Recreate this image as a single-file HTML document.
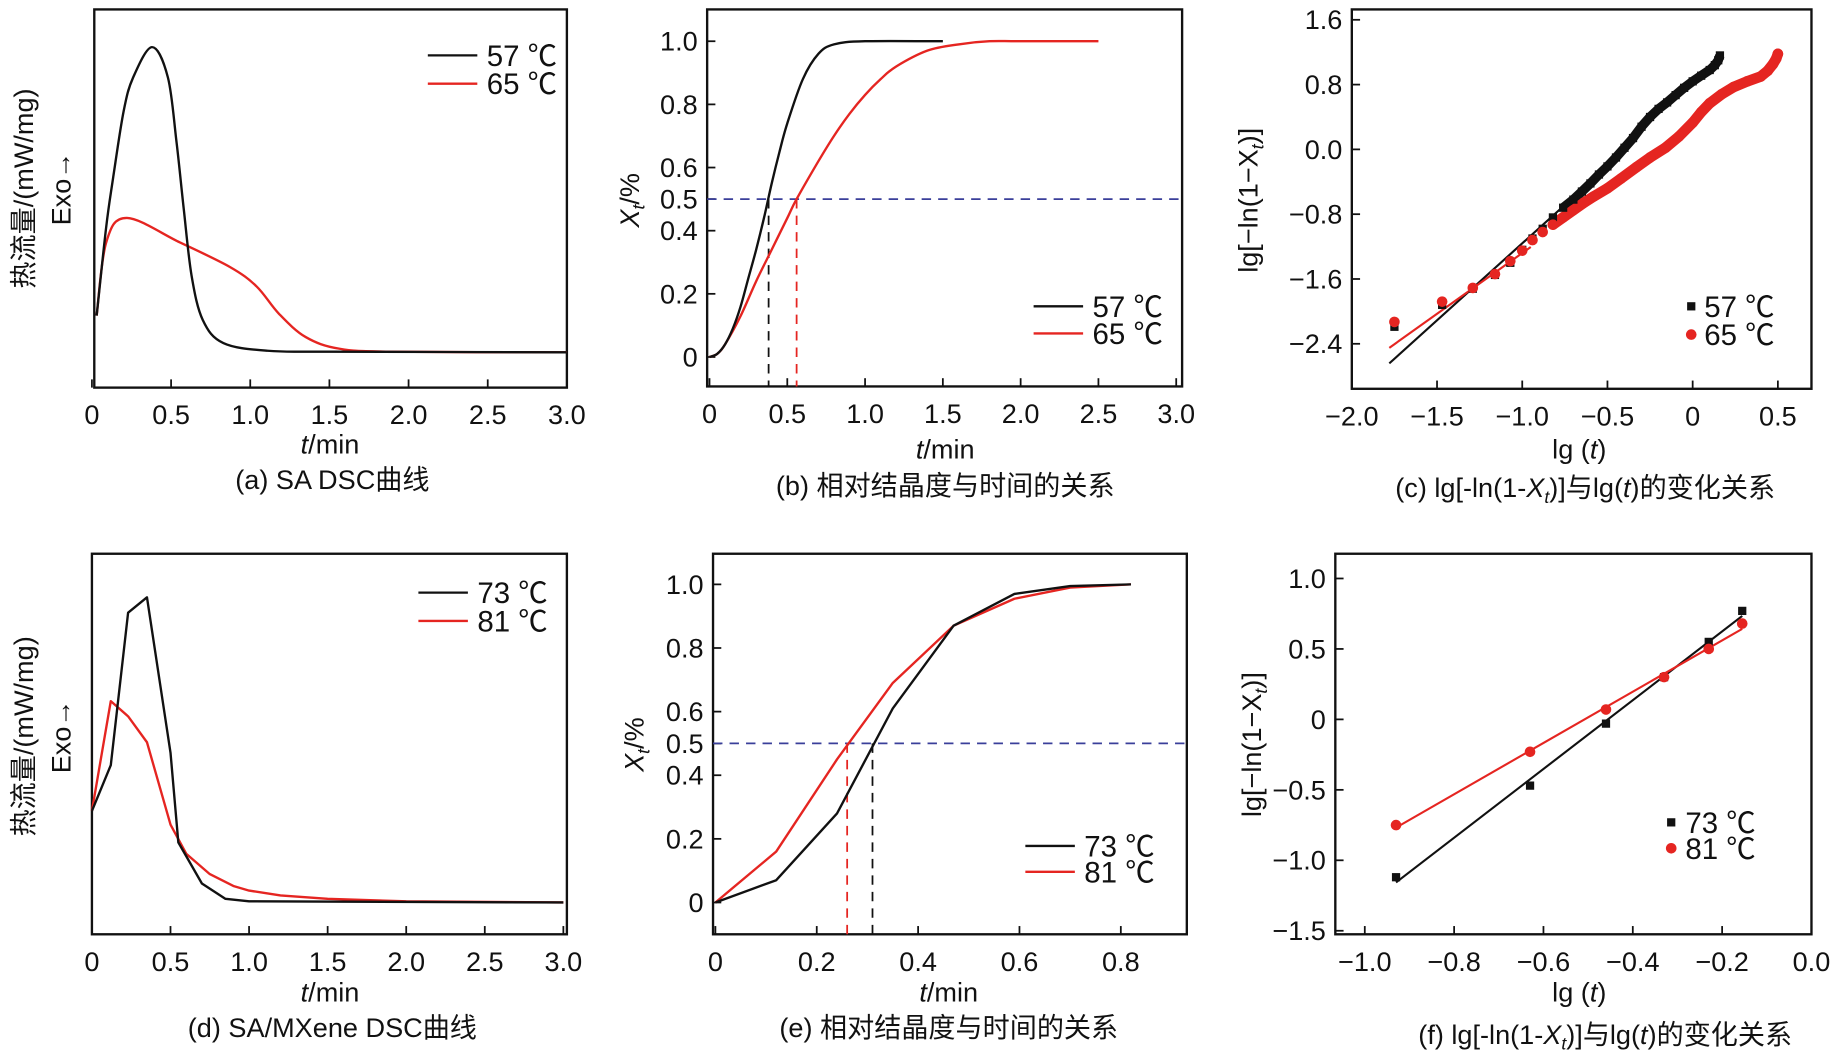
<!DOCTYPE html>
<html><head><meta charset="utf-8"><style>
html,body{margin:0;padding:0;background:#fff}
svg{display:block}
text{font-family:"Liberation Sans","Noto Sans CJK SC",sans-serif;fill:#111}
</style></head><body>
<svg id="fig" width="1848" height="1058" viewBox="0 0 1568 898" preserveAspectRatio="none" xmlns="http://www.w3.org/2000/svg"></svg>
<script>
// ---- data ----
const aT57=[0.03,0.09,0.135,0.2,0.26,0.38,0.48,0.535,0.58,0.63,0.70,0.83,1.11,1.5,3.0];
const aV57=[0.12,0.41,0.575,0.79,0.90,1.0,0.90,0.685,0.47,0.25,0.106,0.03,0.005,0.002,0];
const aT65=[0.03,0.09,0.22,0.556,0.87,1.04,1.18,1.35,1.56,1.9,3.0];
const aV65=[0.12,0.36,0.44,0.36,0.28,0.216,0.127,0.05,0.012,0.002,0];
const bT57=[0,0.05,0.1,0.15,0.2,0.25,0.3,0.35,0.4,0.45,0.5,0.6,0.7,0.8,1.0,1.5];
const bX57=[0,0.01,0.04,0.09,0.16,0.25,0.34,0.44,0.55,0.65,0.74,0.88,0.96,0.99,1.0,1.0];
const bT65=[0,0.05,0.1,0.2,0.3,0.4,0.5,0.56,0.7,0.8,0.9,1.0,1.1,1.2,1.4,1.6,1.8,2.0,2.5];
const bX65=[0,0.01,0.04,0.13,0.24,0.34,0.44,0.5,0.62,0.7,0.77,0.83,0.88,0.92,0.97,0.99,1.0,1.0,1.0];
const bHalf=[0.38,0.56];
const cX57=[-1.75,-1.47,-1.29,-1.16,-1.07,-1.00,-0.94,-0.88,-0.82,-0.76,-0.70,-0.65,-0.60,-0.55,-0.50,-0.45,-0.40,-0.35,-0.30,-0.25,-0.20,-0.15,-0.10,-0.05,0.00,0.05,0.10,0.13,0.15,0.16];
const cY57=[-2.19,-1.92,-1.72,-1.55,-1.40,-1.24,-1.10,-0.98,-0.84,-0.72,-0.62,-0.52,-0.42,-0.31,-0.21,-0.10,0.02,0.14,0.28,0.40,0.50,0.58,0.67,0.76,0.84,0.91,0.98,1.04,1.10,1.16];
const cX65=[-1.75,-1.47,-1.29,-1.16,-1.07,-1.00,-0.94,-0.88,-0.82,-0.76,-0.70,-0.64,-0.58,-0.50,-0.42,-0.33,-0.25,-0.16,-0.08,0.00,0.05,0.10,0.17,0.24,0.32,0.40,0.44,0.47,0.49,0.50];
const cY65=[-2.13,-1.88,-1.71,-1.54,-1.38,-1.25,-1.12,-1.02,-0.93,-0.84,-0.75,-0.66,-0.58,-0.48,-0.36,-0.22,-0.10,0.02,0.16,0.33,0.46,0.57,0.68,0.77,0.84,0.90,0.97,1.05,1.12,1.18];
const cDense=[9,8]; // index where markers become continuous (57, 65)
const cFit57=[1.9,0.74,-1.78,-0.65]; // slope, intercept, x0, x1
const cFit65=[1.5,0.22,-1.78,-0.95];
const dT73=[0,0.12,0.23,0.35,0.5,0.55,0.7,0.85,1.0,3.0];
const dV73=[0.30,0.45,0.95,1.0,0.49,0.197,0.062,0.012,0.004,0];
const dT81=[0,0.12,0.23,0.35,0.5,0.6,0.75,0.9,1.0,1.2,1.5,2.0,3.0];
const dV81=[0.30,0.66,0.61,0.525,0.255,0.16,0.093,0.054,0.039,0.023,0.012,0.004,0];
const eT=[0,0.12,0.24,0.35,0.47,0.59,0.70,0.82];
const eX73=[0,0.07,0.28,0.61,0.87,0.97,0.995,1.0];
const eX81=[0,0.16,0.45,0.69,0.87,0.955,0.99,1.0];
const eHalf=[0.31,0.26];
const fX=[-0.93,-0.63,-0.46,-0.33,-0.23,-0.155];
const fY73=[-1.12,-0.47,-0.03,0.30,0.55,0.77];
const fY81=[-0.75,-0.23,0.07,0.30,0.50,0.68];
const tickA=["0","0.5","1.0","1.5","2.0","2.5","3.0"];
const tickBY=["0","0.2","0.4","0.5","0.6","0.8","1.0"];
const tickCX=["−2.0","−1.5","−1.0","−0.5","0","0.5"];
const tickCY=["−2.4","−1.6","−0.8","0.0","0.8","1.6"];
const tickEX=["0","0.2","0.4","0.6","0.8"];
const tickFX=["−1.0","−0.8","−0.6","−0.4","−0.2","0.0"];
const tickFY=["−1.5","−1.0","−0.5","0","0.5","1.0"];

const S=document.getElementById('fig');
const NS='http://www.w3.org/2000/svg';
function mk(tag,at,par){const e=document.createElementNS(NS,tag);for(const k in at)e.setAttribute(k,at[k]);(par||S).appendChild(e);return e;}
function txt(x,y,s,size,anchor,par,rot){const e=mk('text',{x:x,y:y,'font-size':size,'text-anchor':anchor||'middle'},par);if(rot)e.setAttribute('transform','rotate(-90 '+x+' '+y+')');e.innerHTML=s;return e;}
function lin(d0,d1,r0,r1){return v=>r0+(v-d0)/(d1-d0)*(r1-r0);}
function poly(xs,ys,X,Y,col,g,name){const p=mk('polyline',{points:xs.map((v,i)=>X(v).toFixed(1)+','+Y(ys[i]).toFixed(1)).join(' '),fill:'none',stroke:col,'stroke-width':2,'stroke-linejoin':'round'},g);return p;}
function smooth(xs,ys,X,Y,col,g,name){
  const P=xs.map((v,i)=>[X(v),Y(ys[i])]);let d='M'+P[0][0].toFixed(1)+','+P[0][1].toFixed(1);
  for(let i=0;i<P.length-1;i++){const p0=P[Math.max(0,i-1)],p1=P[i],p2=P[i+1],p3=P[Math.min(P.length-1,i+2)];
    const t=6;const c1=[p1[0]+(p2[0]-p0[0])/t,p1[1]+(p2[1]-p0[1])/t],c2=[p2[0]-(p3[0]-p1[0])/t,p2[1]-(p3[1]-p1[1])/t];
    d+=' C'+c1[0].toFixed(1)+','+c1[1].toFixed(1)+' '+c2[0].toFixed(1)+','+c2[1].toFixed(1)+' '+p2[0].toFixed(1)+','+p2[1].toFixed(1);}
  const p=mk('path',{d:d,fill:'none',stroke:col,'stroke-width':2},g);return p;}
function box(x0,y0,x1,y1,g){const r=mk('rect',{x:x0,y:y0,width:x1-x0,height:y1-y0,fill:'none',stroke:'#111','stroke-width':2},g);}
function xticks(vals,labels,X,yb,g){vals.forEach((v,i)=>{mk('line',{x1:X(v),x2:X(v),y1:yb,y2:yb-7,stroke:'#111','stroke-width':1.5},g);const t=txt(X(v),yb+31,labels[i],23,'middle',g);});}
function yticks(vals,labels,Y,xl,g){vals.forEach((v,i)=>{mk('line',{x1:xl,x2:xl+7,y1:Y(v),y2:Y(v),stroke:'#111','stroke-width':1.5},g);const t=txt(xl-8,Y(v)+8,labels[i],23,'end',g);});}
function group(name){const g=mk('g',{});return g;}
function legLine(x,y,col,label,g){mk('line',{x1:x,x2:x+42,y1:y,y2:y,stroke:col,'stroke-width':2},g);const t=txt(x+50,y+9,label,25,'start',g);}
function sq(x,y,col,g){mk('rect',{x:x-3.5,y:y-3.5,width:7,height:7,fill:col},g);}
function ci(x,y,col,g){mk('circle',{cx:x,cy:y,r:4.5,fill:col},g);}
function fitLine(xs,ys){const n=xs.length;let sx=0,sy=0,sxx=0,sxy=0;for(let i=0;i<n;i++){sx+=xs[i];sy+=ys[i];sxx+=xs[i]*xs[i];sxy+=xs[i]*ys[i];}const m=(n*sxy-sx*sy)/(n*sxx-sx*sx);return [m,(sy-m*sx)/n];}
const tv=[0,0.5,1,1.5,2,2.5,3];

// ---- panel a ----
(function(){const g=group('panel-a');box(80,8,481,329,g);
const X=lin(0,3,78,481),Y=lin(0,1,299,40);
xticks(tv,tickA,X,329,g);
smooth(aT65,aV65,X,Y,'#e52521',g,'line-65');smooth(aT57,aV57,X,Y,'#111',g,'line-57');
legLine(363,47,'#111','57 ℃',g);legLine(363,71,'#e52521','65 ℃',g);
txt(28,160,'热流量/(mW/mg)',23,'middle',g,true);txt(60,160,'Exo→',23,'middle',g,true);
txt(280,385,'<tspan font-style="italic">t</tspan>/min',23,'middle',g);
txt(282,415,'(a) SA DSC曲线',23,'middle',g);})();

// ---- panel b ----
(function(){const g=group('panel-b');box(600,8,1003,328,g);
const X=lin(0,3,602,998),Y=lin(0,1,303,35);
xticks(tv,tickA,X,328,g);yticks([0,0.2,0.4,0.5,0.6,0.8,1.0],tickBY,Y,600,g);
mk('line',{x1:600,x2:1003,y1:Y(0.5),y2:Y(0.5),stroke:'#3a3f9a','stroke-width':1.5,'stroke-dasharray':'8 6'},g);
mk('line',{x1:X(bHalf[0]),x2:X(bHalf[0]),y1:Y(0.5),y2:328,stroke:'#111','stroke-width':1.5,'stroke-dasharray':'8 6'},g);
mk('line',{x1:X(bHalf[1]),x2:X(bHalf[1]),y1:Y(0.5),y2:328,stroke:'#e52521','stroke-width':1.5,'stroke-dasharray':'8 6'},g);
smooth(bT65,bX65,X,Y,'#e52521',g,'line-65');smooth(bT57,bX57,X,Y,'#111',g,'line-57');
legLine(877,260,'#111','57 ℃',g);legLine(877,283,'#e52521','65 ℃',g);
txt(542,170,'<tspan font-style="italic">X</tspan><tspan font-style="italic" font-size="15" dy="5">t</tspan><tspan dy="-5">/%</tspan>',23,'middle',g,true);
txt(802,389,'<tspan font-style="italic">t</tspan>/min',23,'middle',g);
txt(802,420,'(b) 相对结晶度与时间的关系',23,'middle',g);})();

// ---- panel c ----
(function(){const g=group('panel-c');box(1147,8,1537,330,g);
const X=lin(-2,0.5,1147,1508.5),Y=lin(0,0.8,126.8,71.8);
xticks([-2,-1.5,-1,-0.5,0,0.5],tickCX,X,330,g);yticks([-2.4,-1.6,-0.8,0,0.8,1.6],tickCY,Y,1147,g);
[cFit57,cFit65].forEach((f,i)=>{const l=mk('line',{x1:X(f[2]),x2:X(f[3]),y1:Y(f[0]*f[2]+f[1]),y2:Y(f[0]*f[3]+f[1]),stroke:i?'#e52521':'#111','stroke-width':1.8},g);});
const d57=mk('polyline',{points:cX57.slice(cDense[0]).map((v,i)=>X(v).toFixed(1)+','+Y(cY57[i+cDense[0]]).toFixed(1)).join(' '),fill:'none',stroke:'#111','stroke-width':8,'stroke-linejoin':'round'},g);


const d65=mk('polyline',{points:cX65.slice(cDense[1]).map((v,i)=>X(v).toFixed(1)+','+Y(cY65[i+cDense[1]]).toFixed(1)).join(' '),fill:'none',stroke:'#e52521','stroke-width':9,'stroke-linecap':'round','stroke-linejoin':'round'},g);


cX57.forEach((v,i)=>sq(X(v),Y(cY57[i]),'#111',g));
cX65.forEach((v,i)=>ci(X(v),Y(cY65[i]),'#e52521',g));
sq(1435,260,'#111',g);ci(1435,284,'#e52521',g);
txt(1446,269,'57 ℃',25,'start',g);txt(1446,293,'65 ℃',25,'start',g);
txt(1067,170,'lg[−ln(1−X<tspan font-style="italic" font-size="15" dy="5">t</tspan><tspan dy="-5">)]</tspan>',23,'middle',g,true);
txt(1340,389,'lg (<tspan font-style="italic">t</tspan>)',23,'middle',g);
txt(1345,422,'(c) lg[-ln(1-<tspan font-style="italic">X</tspan><tspan font-style="italic" font-size="15" dy="5">t</tspan><tspan dy="-5">)]与lg(</tspan><tspan font-style="italic">t</tspan>)的变化关系',23,'middle',g);})();

// ---- panel d ----
(function(){const g=group('panel-d');box(78,470,481,793,g);
const X=lin(0,3,78,478),Y=lin(0,1,766,507);
xticks(tv,tickA,X,793,g);
poly(dT81,dV81,X,Y,'#e52521',g,'line-81');poly(dT73,dV73,X,Y,'#111',g,'line-73');
legLine(355,503,'#111','73 ℃',g);legLine(355,527,'#e52521','81 ℃',g);
txt(28,625,'热流量/(mW/mg)',23,'middle',g,true);txt(60,625,'Exo→',23,'middle',g,true);
txt(280,850,'<tspan font-style="italic">t</tspan>/min',23,'middle',g);
txt(282,880,'(d) SA/MXene DSC曲线',23,'middle',g);})();

// ---- panel e ----
(function(){const g=group('panel-e');box(605,470,1007,793,g);
const X=lin(0,0.8,607,951),Y=lin(0,1,766,496);
xticks([0,0.2,0.4,0.6,0.8],tickEX,X,793,g);yticks([0,0.2,0.4,0.5,0.6,0.8,1.0],tickBY,Y,605,g);
mk('line',{x1:605,x2:1007,y1:Y(0.5),y2:Y(0.5),stroke:'#3a3f9a','stroke-width':1.5,'stroke-dasharray':'8 6'},g);
mk('line',{x1:X(eHalf[0]),x2:X(eHalf[0]),y1:Y(0.5),y2:793,stroke:'#111','stroke-width':1.5,'stroke-dasharray':'8 6'},g);
mk('line',{x1:X(eHalf[1]),x2:X(eHalf[1]),y1:Y(0.5),y2:793,stroke:'#e52521','stroke-width':1.5,'stroke-dasharray':'8 6'},g);
poly(eT,eX81,X,Y,'#e52521',g,'line-81');poly(eT,eX73,X,Y,'#111',g,'line-73');
legLine(870,718,'#111','73 ℃',g);legLine(870,740,'#e52521','81 ℃',g);
txt(546,632,'<tspan font-style="italic">X</tspan><tspan font-style="italic" font-size="15" dy="5">t</tspan><tspan dy="-5">/%</tspan>',23,'middle',g,true);
txt(805,850,'<tspan font-style="italic">t</tspan>/min',23,'middle',g);
txt(805,880,'(e) 相对结晶度与时间的关系',23,'middle',g);})();

// ---- panel f ----
(function(){const g=group('panel-f');box(1133,470,1537,793,g);
const X=lin(-1,0,1158,1537),Y=lin(0,1,610.6,491);
xticks([-1,-0.8,-0.6,-0.4,-0.2,0],tickFX,X,793,g);yticks([-1.5,-1,-0.5,0,0.5,1.0],tickFY,Y,1133,g);
[[fY73,'#111','fit-line-73'],[fY81,'#e52521','fit-line-81']].forEach(s=>{const f=fitLine(fX,s[0]);const x0=fX[0],x1=fX[fX.length-1];const l=mk('line',{x1:X(x0),x2:X(x1),y1:Y(f[0]*x0+f[1]),y2:Y(f[0]*x1+f[1]),stroke:s[1],'stroke-width':1.8},g);});
fX.forEach((v,i)=>sq(X(v),Y(fY73[i]),'#111',g));
fX.forEach((v,i)=>ci(X(v),Y(fY81[i]),'#e52521',g));
sq(1418,698,'#111',g);ci(1418,720,'#e52521',g);
txt(1430,707,'73 ℃',25,'start',g);txt(1430,729,'81 ℃',25,'start',g);
txt(1070,632,'lg[−ln(1−X<tspan font-style="italic" font-size="15" dy="5">t</tspan><tspan dy="-5">)]</tspan>',23,'middle',g,true);
txt(1340,850,'lg (<tspan font-style="italic">t</tspan>)',23,'middle',g);
txt(1362,886,'(f) lg[-ln(1-<tspan font-style="italic">X</tspan><tspan font-style="italic" font-size="15" dy="5">t</tspan><tspan dy="-5">)]与lg(</tspan><tspan font-style="italic">t</tspan>)的变化关系',23,'middle',g);})();
</script>
</body></html>
